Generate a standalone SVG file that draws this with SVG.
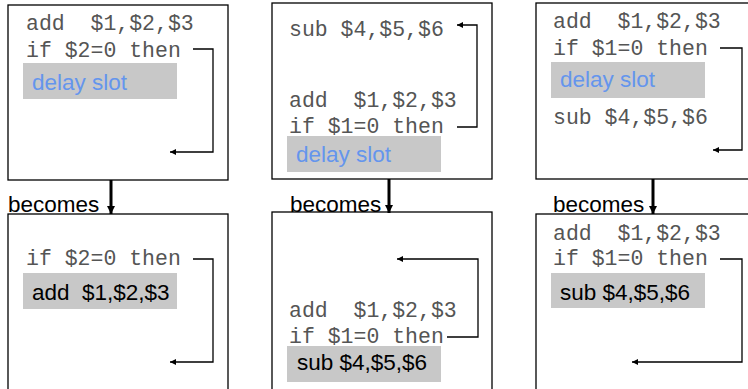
<svg xmlns="http://www.w3.org/2000/svg" width="748" height="389" viewBox="0 0 748 389">
<defs>
<marker id="ah" viewBox="0 0 10 10" refX="10" refY="5" markerWidth="8" markerHeight="6" markerUnits="userSpaceOnUse" orient="auto"><path d="M0,0 L10,5 L0,10 z" fill="#000"/></marker>
<marker id="ahd" viewBox="0 0 10 10" refX="10" refY="5" markerWidth="9" markerHeight="8" markerUnits="userSpaceOnUse" orient="auto"><path d="M0,0 L10,5 L0,10 z" fill="#000"/></marker>
</defs>
<style>
text{white-space:pre}
.box{fill:#fff;stroke:#000;stroke-width:1.3}
.code{font-family:"Liberation Mono","Courier New",monospace;font-size:21.5px;fill:#555}
.slot{fill:#c8c8c8}
.ds{font-family:"Liberation Sans",Arial,sans-serif;font-size:22.5px;fill:#6495ed}
.ins{font-family:"Liberation Sans",Arial,sans-serif;font-size:22.5px;fill:#000}
.bec{font-family:"Liberation Sans",Arial,sans-serif;font-size:22.5px;fill:#000}
.ln{fill:none;stroke:#000;stroke-width:1.3;marker-end:url(#ah)}
.dn{fill:none;stroke:#000;stroke-width:3;marker-end:url(#ahd)}
</style>
<rect width="748" height="389" fill="#fff"/>
<g id="box1">
<rect class="box" x="8" y="5" width="220" height="175"/>
<text class="code" x="26" y="30" xml:space="preserve">add  $1,$2,$3</text>
<text class="code" x="26" y="57">if $2=0 then</text>
<rect class="slot" x="23" y="63" width="154" height="36"/>
<text class="ds" x="32" y="90">delay slot</text>
</g>
<g id="box2">
<rect class="box" x="272" y="3" width="220" height="176"/>
<text class="code" x="289" y="36">sub $4,$5,$6</text>
<text class="code" x="289" y="107" xml:space="preserve">add  $1,$2,$3</text>
<text class="code" x="289" y="133">if $1=0 then</text>
<rect class="slot" x="287" y="136" width="154" height="36"/>
<text class="ds" x="296" y="162">delay slot</text>
</g>
<g id="box3">
<rect class="box" x="536" y="3" width="220" height="176"/>
<text class="code" x="553" y="28" xml:space="preserve">add  $1,$2,$3</text>
<text class="code" x="553" y="55">if $1=0 then</text>
<rect class="slot" x="551" y="62" width="154" height="36"/>
<text class="ds" x="560" y="87">delay slot</text>
<text class="code" x="553" y="124">sub $4,$5,$6</text>
</g>
<g id="box4">
<rect class="box" x="8" y="214" width="220" height="190"/>
<text class="code" x="26" y="265">if $2=0 then</text>
<rect class="slot" x="23" y="273" width="154" height="36"/>
<text class="ins" x="32" y="300" xml:space="preserve">add  $1,$2,$3</text>
</g>
<g id="box5">
<rect class="box" x="272" y="212" width="220" height="190"/>
<text class="code" x="289" y="317" xml:space="preserve">add  $1,$2,$3</text>
<text class="code" x="289" y="343">if $1=0 then</text>
<rect class="slot" x="287" y="346" width="154" height="36"/>
<text class="ins" x="297" y="370">sub $4,$5,$6</text>
</g>
<g id="box6">
<rect class="box" x="536" y="214" width="220" height="190"/>
<text class="code" x="553" y="240" xml:space="preserve">add  $1,$2,$3</text>
<text class="code" x="553" y="265">if $1=0 then</text>
<rect class="slot" x="551" y="273" width="154" height="35"/>
<text class="ins" x="560" y="300">sub $4,$5,$6</text>
</g>
<g id="labels">
<text class="bec" x="8" y="212">becomes</text>
<text class="bec" x="290" y="212">becomes</text>
<text class="bec" x="553" y="212">becomes</text>
</g>
<g id="connectors">
<path class="ln" d="M193,49 H213 V152 H170"/>
<path class="ln" d="M457,127 H477 V25 H457"/>
<path class="ln" d="M720,48 H742 V150 H713"/>
<path class="ln" d="M193,259 H213 V362 H170"/>
<path class="ln" d="M447,337 H478 V259 H397"/>
<path class="ln" d="M720,259 H742 V362 H632"/>
<path class="dn" d="M111,180 V214"/>
<path class="dn" d="M389,179 V213"/>
<path class="dn" d="M653,179 V214"/>
</g>
</svg>
